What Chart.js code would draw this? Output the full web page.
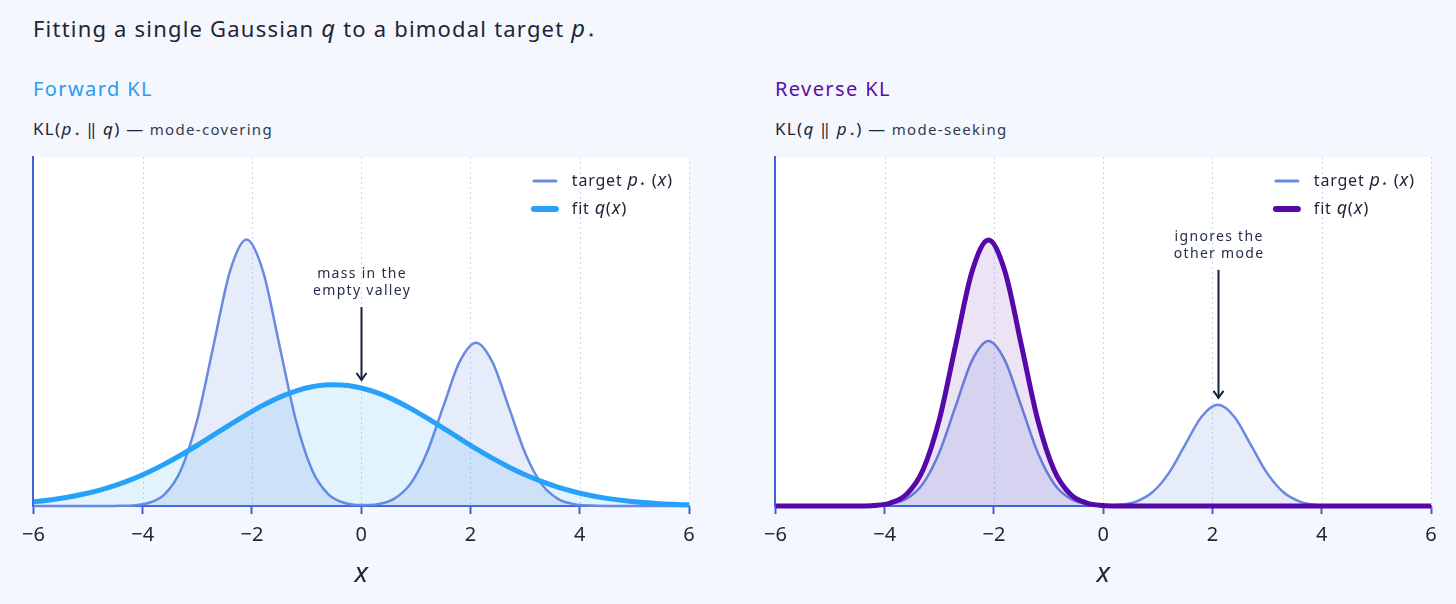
<!DOCTYPE html>
<html><head><meta charset="utf-8">
<script src="https://cdn.jsdelivr.net/npm/chart.js@4.4.1/dist/chart.umd.min.js"></script>
<style>
html,body{margin:0;padding:0;}
body{width:1456px;height:604px;background:#f4f7fe;position:relative;overflow:hidden;font-family:"Noto Sans",sans-serif;color:#1e2536;}
.abs{position:absolute;white-space:nowrap;}
#title{left:33px;top:13px;font-size:22px;line-height:30px;letter-spacing:1.2px;}
#title i{font-size:1.08em;}
.name{font-size:20px;line-height:26px;top:76px;letter-spacing:1.4px;}
.sub{top:116px;font-size:15px;line-height:26px;color:#323b4f;letter-spacing:1.3px;}
.sub .kl{font-size:17px;color:#1e2536;}
sub{font-size:0.6em;vertical-align:-0.15em;margin-left:1px;}
.cw{position:absolute;top:147px;width:696px;height:444px;}
</style></head>
<body>
<div id="title" class="abs">Fitting a single Gaussian <i>q</i> to a bimodal target <i>p</i><sub>⋆</sub></div>
<div class="abs name" style="left:33px;color:#2b9bf4;">Forward KL</div>
<div class="abs sub" style="left:33px;"><span class="kl">KL(<i>p</i><sub>⋆</sub> ‖ <i>q</i>) —</span> mode-covering</div>
<div class="abs name" style="left:775px;color:#5a0ea8;">Reverse KL</div>
<div class="abs sub" style="left:775px;"><span class="kl">KL(<i>q</i> ‖ <i>p</i><sub>⋆</sub>) —</span> mode-seeking</div>
<div class="cw" style="left:13px;"><canvas id="c1"></canvas></div>
<div class="cw" style="left:755px;"><canvas id="c2"></canvas></div>
<script>
// ---- data ----
const xValues = [-6.0,-5.7,-5.4,-5.1,-4.8,-4.5,-4.2,-3.9,-3.6,-3.3,-3.0,-2.7,-2.4,-2.1,-1.8,-1.5,-1.2,-0.9,-0.6,-0.3,0,0.3,0.6,0.9,1.2,1.5,1.8,2.1,2.4,2.7,3.0,3.3,3.6,3.9,4.2,4.5,4.8,5.1,5.4,5.7,6.0];
const targetDensity = [0,0,0,0,0.00002,0.00014,0.0009,0.0046,0.0181,0.0558,0.1338,0.2500,0.3638,0.4122,0.3638,0.2500,0.1338,0.0558,0.0181,0.0047,0.0015,0.0029,0.0111,0.0342,0.0821,0.1533,0.2230,0.2527,0.2230,0.1533,0.0821,0.0342,0.0111,0.0028,0.0006,0.0001,0,0,0,0,0];
const forwardFit = [0.0066,0.0094,0.0132,0.0181,0.0243,0.0320,0.0413,0.0523,0.0648,0.0789,0.0940,0.1099,0.1259,0.1414,0.1557,0.1681,0.1778,0.1844,0.1875,0.1869,0.1826,0.1749,0.1642,0.1511,0.1363,0.1206,0.1046,0.0889,0.0740,0.0605,0.0484,0.0380,0.0292,0.0221,0.0163,0.0118,0.0084,0.0058,0.0040,0.0027,0.0018];
const reverseFit = [0,0,0,0,0,0.0002,0.0015,0.0074,0.0292,0.0900,0.2159,0.4033,0.5868,0.6649,0.5868,0.4033,0.2159,0.0900,0.0292,0.0074,0.0015,0.0002,0,0,0,0,0,0,0,0,0,0,0,0,0,0,0,0,0,0,0];
const xTicks = [-6,-4,-2,0,2,4,6];
const yMaxForward = 0.54;
const yMaxReverse = 0.872;

// ---- styling ----
const FONT = '"Noto Sans", sans-serif';
Chart.defaults.font.family = FONT;
const INK = '#1e2536';
const AXIS = '#4361d8';
const TARGET = '#6a89e0';

const pts = arr => xValues.map((x, i) => ({x, y: arr[i]}));

function setSpacing(ctx, v){ if ('letterSpacing' in ctx) ctx.letterSpacing = v; }
function segFont(s){ return (s.i ? 'italic ' : '') + s.s + 'px ' + FONT; }
function segsWidth(ctx, segs){ let w = 0; segs.forEach(s => { ctx.font = segFont(s); w += ctx.measureText(s.t).width; }); return w; }
function drawSegs(ctx, segs, x, y){
  ctx.textBaseline = 'middle'; ctx.textAlign = 'left'; ctx.fillStyle = INK;
  segs.forEach(s => { ctx.font = segFont(s); ctx.fillText(s.t, x, y + (s.dy || 0)); x += ctx.measureText(s.t).width; });
}

const bgPlugin = {
  id: 'klbg',
  beforeDraw(chart){
    const {ctx, chartArea: a} = chart;
    ctx.save(); ctx.fillStyle = '#ffffff'; ctx.fillRect(a.left, a.top, a.right - a.left, a.bottom - a.top); ctx.restore();
  },
  beforeDatasetsDraw(chart){
    const {ctx, chartArea: a, scales: {x}} = chart;
    ctx.save(); ctx.strokeStyle = '#c4d8f4'; ctx.lineWidth = 1; ctx.setLineDash([2, 3]);
    xTicks.slice(1).forEach(v => {
      const px = Math.round(x.getPixelForValue(v)) + 0.5;
      ctx.beginPath(); ctx.moveTo(px, a.top); ctx.lineTo(px, a.bottom); ctx.stroke();
    });
    ctx.restore();
  }
};

const overlayPlugin = {
  id: 'kloverlay',
  afterDatasetsDraw(chart, args, opts){
    const {ctx, chartArea: a, scales: {x, y}} = chart;
    ctx.save();
    // annotation
    const an = opts.ann;
    const ax = Math.round(x.getPixelForValue(an.xVal)) + 0.5;
    const tip = y.getPixelForValue(an.yVal) - an.gap;
    const tail = tip - an.len;
    ctx.strokeStyle = '#15203a'; ctx.lineWidth = 2; ctx.lineCap = 'butt';
    ctx.beginPath(); ctx.moveTo(ax, tail); ctx.lineTo(ax, tip - 1); ctx.stroke();
    ctx.beginPath(); ctx.moveTo(ax - 5, tip - 7); ctx.lineTo(ax, tip); ctx.lineTo(ax + 5, tip - 7); ctx.stroke();
    ctx.fillStyle = '#243047'; ctx.font = '14px ' + FONT; ctx.textAlign = 'center'; ctx.textBaseline = 'middle';
    setSpacing(ctx, '1.3px');
    ctx.fillText(an.lines[0], ax + 0.6, tail - 33);
    ctx.fillText(an.lines[1], ax + 0.6, tail - 16);
    // legend
    setSpacing(ctx, '0.8px');
    const items = opts.legend;
    const maxW = Math.max(...items.map(it => segsWidth(ctx, it.segs)));
    const tx = a.right - 16 - maxW;
    items.forEach((it, k) => {
      const ly = a.top + 24 + k * 28;
      ctx.strokeStyle = it.color; ctx.lineWidth = it.width; ctx.lineCap = 'round';
      ctx.beginPath(); ctx.moveTo(tx - 38, ly); ctx.lineTo(tx - 16, ly); ctx.stroke();
      drawSegs(ctx, it.segs, tx, ly);
    });
    ctx.restore();
  }
};

const targetSegs = [{t:'target ', s:16},{t:'p', s:18, i:true},{t:'⋆', s:11, dy:3},{t:' (', s:17},{t:'x', s:18, i:true},{t:')', s:17}];
const fitSegs = [{t:'fit ', s:16},{t:'q', s:18, i:true},{t:'(', s:17},{t:'x', s:18, i:true},{t:')', s:17}];

function makeChart(id, fitData, fitColor, fitFill, yMax, ann){
  return new Chart(document.getElementById(id), {
    type: 'line',
    data: {
      datasets: [
        {label: 'fit q(x)', data: pts(fitData), borderColor: fitColor, borderWidth: 5, backgroundColor: fitFill,
         fill: 'origin', pointRadius: 0, cubicInterpolationMode: 'monotone', clip: {left: 0, top: 5, right: 0, bottom: 5}},
        {label: 'target p⋆(x)', data: pts(targetDensity), borderColor: TARGET, borderWidth: 2.5, backgroundColor: 'rgba(107,140,226,0.17)',
         fill: 'origin', pointRadius: 0, cubicInterpolationMode: 'monotone', clip: {left: 0, top: 5, right: 0, bottom: 5}}
      ]
    },
    options: {
      responsive: true, maintainAspectRatio: false, animation: false,
      layout: {padding: {left: 20, top: 10, right: 20, bottom: 0}},
      plugins: {
        legend: {display: false}, tooltip: {enabled: false},
        kloverlay: {ann: ann, legend: [
          {segs: targetSegs, color: TARGET, width: 3},
          {segs: fitSegs, color: fitColor, width: 6}
        ]}
      },
      scales: {
        x: {
          type: 'linear', min: -6, max: 6,
          afterBuildTicks: s => { s.ticks = xTicks.map(v => ({value: v})); },
          afterFit: s => { s.height = 85; },
          ticks: {color: INK, font: {size: 20}, padding: 9, maxRotation: 0,
                  callback: v => v < 0 ? '\u2212' + Math.abs(v) : String(v)},
          grid: {drawOnChartArea: false, drawTicks: true, tickLength: 8, tickColor: AXIS, tickWidth: 2, color: AXIS},
          border: {display: true, color: AXIS, width: 2},
          title: {display: true, text: 'x', color: INK, font: {size: 28, style: 'italic'}, padding: {top: 0, bottom: 0}}
        },
        y: {
          min: 0, max: yMax,
          afterFit: s => { s.width = 0; },
          ticks: {display: false},
          grid: {display: false},
          border: {display: true, color: AXIS, width: 2}
        }
      }
    },
    plugins: [bgPlugin, overlayPlugin]
  });
}

makeChart('c1', forwardFit, '#27a2fb', 'rgba(42,163,250,0.13)', yMaxForward,
  {xVal: 0, yVal: forwardFit[xValues.indexOf(0)], gap: 8, len: 73, lines: ['mass in the', 'empty valley']});
makeChart('c2', reverseFit, '#5608a8', 'rgba(85,10,168,0.11)', yMaxReverse,
  {xVal: 2.1, yVal: targetDensity[xValues.indexOf(2.1)], gap: 7, len: 128, lines: ['ignores the', 'other mode']});
</script>
</body></html>
